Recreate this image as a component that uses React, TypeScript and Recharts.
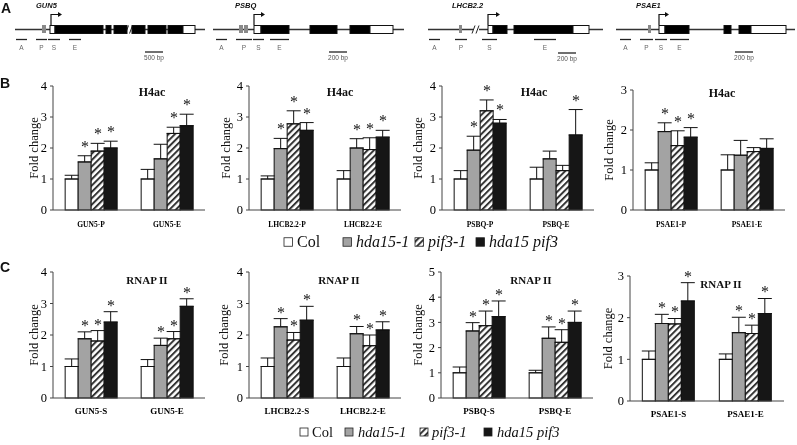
import React from 'react';
import { BarChart, Bar, XAxis, YAxis, ErrorBar } from 'recharts';

const genotypeNames = ['Col', 'hda15-1', 'pif3-1', 'hda15 pif3'];
const genotypeFills = ['#ffffff', '#a3a3a3', 'url(#hatch)', '#161616'];

// Panel B – H4ac
const h4Gun5Cats = ['GUN5-P', 'GUN5-E'];
const h4Gun5Means = [[1.0, 1.55, 1.9, 2.0], [1.0, 1.65, 2.47, 2.72]];
const h4Gun5Errs = [[0.12, 0.2, 0.25, 0.22], [0.31, 0.47, 0.2, 0.37]];
const h4Gun5Sig = [[0, 1, 1, 1], [0, 0, 1, 1]];

const h4LhcbCats = ['LHCB2.2-P', 'LHCB2.2-E'];
const h4LhcbMeans = [[1.0, 1.98, 2.78, 2.57], [1.0, 2.0, 1.95, 2.35]];
const h4LhcbErrs = [[0.1, 0.33, 0.42, 0.25], [0.27, 0.3, 0.38, 0.22]];
const h4LhcbSig = [[0, 1, 1, 1], [0, 1, 1, 1]];

const h4PsbqCats = ['PSBQ-P', 'PSBQ-E'];
const h4PsbqMeans = [[1.0, 1.93, 3.2, 2.8], [1.0, 1.65, 1.27, 2.42]];
const h4PsbqErrs = [[0.27, 0.45, 0.35, 0.12], [0.38, 0.25, 0.17, 0.82]];
const h4PsbqSig = [[0, 1, 1, 1], [0, 0, 0, 1]];

const h4PsaeCats = ['PSAE1-P', 'PSAE1-E'];
const h4PsaeMeans = [[1.0, 1.96, 1.61, 1.82], [1.0, 1.37, 1.46, 1.54]];
const h4PsaeErrs = [[0.18, 0.22, 0.37, 0.24], [0.38, 0.37, 0.1, 0.24]];
const h4PsaeSig = [[0, 1, 1, 1], [0, 0, 0, 0]];

// Panel C – RNAP II
const rnGun5Cats = ['GUN5-S', 'GUN5-E'];
const rnGun5Means = [[1.0, 1.88, 1.81, 2.41], [1.0, 1.67, 1.88, 2.91]];
const rnGun5Errs = [[0.24, 0.22, 0.33, 0.33], [0.22, 0.23, 0.23, 0.24]];
const rnGun5Sig = [[0, 1, 1, 1], [0, 1, 1, 1]];

const rnLhcbCats = ['LHCB2.2-S', 'LHCB2.2-E'];
const rnLhcbMeans = [[1.0, 2.26, 1.84, 2.47], [1.0, 2.04, 1.66, 2.16]];
const rnLhcbErrs = [[0.27, 0.26, 0.24, 0.44], [0.27, 0.23, 0.34, 0.26]];
const rnLhcbSig = [[0, 1, 1, 1], [0, 1, 1, 1]];

const rnPsbqCats = ['PSBQ-S', 'PSBQ-E'];
const rnPsbqMeans = [[1.0, 2.66, 2.87, 3.23], [1.0, 2.37, 2.21, 3.0]];
const rnPsbqErrs = [[0.23, 0.33, 0.58, 0.62], [0.1, 0.45, 0.5, 0.45]];
const rnPsbqSig = [[0, 1, 1, 1], [0, 1, 1, 1]];

const rnPsaeCats = ['PSAE1-S', 'PSAE1-E'];
const rnPsaeMeans = [[1.0, 1.86, 1.85, 2.4], [1.0, 1.64, 1.62, 2.1]];
const rnPsaeErrs = [[0.2, 0.22, 0.13, 0.44], [0.13, 0.37, 0.2, 0.36]];
const rnPsaeSig = [[0, 1, 1, 1], [0, 1, 1, 1]];

const SERIF = "'Liberation Serif', 'Times New Roman', serif";
const SANS = "'Liberation Sans', Arial, sans-serif";

const makeShape = (k: number, starGap: number) => (props: any) => {
  const { x, y, width, height, payload } = props;
  const v = payload['g' + k];
  const e = payload['r' + k];
  const ppu = v > 0 ? height / v : 0;
  const capY = y - e * ppu;
  const cy = capY - starGap;
  return (
    <g>
      <rect x={x} y={y} width={width} height={height} fill={genotypeFills[k]} stroke="#111" strokeWidth={1} />
      {payload['s' + k] ? (
        <text x={Math.round(x + width / 2)} y={Math.round(cy + 8)} textAnchor="middle" fontSize={16} fontFamily={SERIF} fill="#111" opacity={0.99}>*</text>
      ) : null}
    </g>
  );
};

type PanelProps = {
  cats: string[]; means: number[][]; errs: number[][]; sig: number[][];
  yMax: number; px0: number; px1: number; py0: number; py1: number;
  catFont: number; catMargin: number; starGap: number;
};

function Panel(p: PanelProps) {
  const YW = 30, MT = 24, XH = 26;
  const data = p.cats.map((c, i) => {
    const row: any = { cat: c };
    for (let k = 0; k < 4; k++) {
      row['g' + k] = p.means[i][k];
      row['e' + k] = [0, p.errs[i][k]];
      row['r' + k] = p.errs[i][k];
      row['s' + k] = p.sig[i][k];
    }
    return row;
  });
  const ticks = Array.from({ length: p.yMax + 1 }, (_, i) => i);
  return (
    <div style={{ position: 'absolute', left: p.px0 - YW, top: p.py0 - MT, willChange: 'transform' }}>
      <BarChart
        width={p.px1 - p.px0 + YW}
        height={p.py1 - p.py0 + MT + XH}
        data={data}
        margin={{ top: MT, right: 0, bottom: 0, left: 0 }}
        barCategoryGap="16%"
        barGap={0}
      >
        <XAxis dataKey="cat" height={XH} tickLine={false} axisLine={{ stroke: '#444' }} interval={0}
          tick={{ fontSize: p.catFont, fontWeight: 'bold', fontFamily: SERIF, fill: '#000' }} tickMargin={p.catMargin} />
        <YAxis width={YW} domain={[0, p.yMax]} ticks={ticks} tickSize={3}
          axisLine={{ stroke: '#444' }} tickLine={{ stroke: '#444' }}
          tick={{ fontSize: 12.5, fontFamily: SERIF, fill: '#000' }} tickMargin={3} />
        {[0, 1, 2, 3].map((k) => (
          <Bar key={k} dataKey={'g' + k} name={genotypeNames[k]} fill={genotypeFills[k]} isAnimationActive={false} shape={makeShape(k, p.starGap)}>
            <ErrorBar dataKey={'e' + k} width={7} stroke="#111" strokeWidth={1} direction="y" />
          </Bar>
        ))}
      </BarChart>
    </div>
  );
}

type Gene = {
  name: string; nameX: number; line: [number, number]; gray: [number, number][];
  exons: [number, number, number][]; arrow: [number, number]; breaks: number[];
  regions: [string, number, number][]; scale: [number, number]; scaleLabel: string; scaleY: number;
};

const genes: Gene[] = [
  {
    name: 'GUN5', nameX: 36, line: [15, 205], gray: [[42, 46]],
    exons: [[50, 55, 0], [55, 103, 1], [106, 111, 1], [114, 127, 1], [132, 145, 1], [148, 166, 1], [168, 183, 1], [183, 195, 0]],
    arrow: [51, 62], breaks: [129.5],
    regions: [['A', 16, 27], ['P', 36, 47], ['S', 48, 60], ['E', 69, 81]], scale: [145, 163], scaleLabel: '500 bp', scaleY: 52,
  },
  {
    name: 'PSBQ', nameX: 235, line: [213, 404], gray: [[239, 243], [244, 248]],
    exons: [[254, 261, 0], [261, 289, 1], [310, 337, 1], [350, 370, 1], [370, 393, 0]],
    arrow: [254, 265], breaks: [],
    regions: [['A', 216, 227], ['P', 236, 252], ['S', 253, 264], ['E', 270, 289]], scale: [329, 347], scaleLabel: '200 bp', scaleY: 52,
  },
  {
    name: 'LHCB2.2', nameX: 452, line: [428, 603], gray: [[459, 462]],
    exons: [[488, 493, 0], [493, 507, 1], [514, 573, 1], [573, 589, 0]],
    arrow: [488, 500], breaks: [476],
    regions: [['A', 429, 440], ['P', 455, 467], ['S', 482, 497], ['E', 534, 556]], scale: [558, 576], scaleLabel: '200 bp', scaleY: 53,
  },
  {
    name: 'PSAE1', nameX: 636, line: [616, 795], gray: [[648, 651]],
    exons: [[659, 665, 0], [665, 689, 1], [724, 731, 1], [739, 751, 1], [751, 786, 0]],
    arrow: [659, 669], breaks: [],
    regions: [['A', 620, 631], ['P', 640, 653], ['S', 655, 667], ['E', 670, 689]], scale: [735, 753], scaleLabel: '200 bp', scaleY: 52,
  },
];

function GeneDiagram({ g }: { g: Gene }) {
  const ly = 29.5;
  return (
    <g>
      <text x={g.nameX} y={8} fontSize={7.5} fontWeight="bold" fontStyle="italic" fontFamily={SANS} fill="#111">{g.name}</text>
      <line x1={g.line[0]} x2={g.line[1]} y1={ly} y2={ly} stroke="#333" strokeWidth={1.3} />
      {g.breaks.map((b, i) => (
        <g key={i}>
          <rect x={b - 3} y={ly - 5} width={6} height={10} fill="#fff" />
          <line x1={b - 4} y1={ly + 4} x2={b - 1} y2={ly - 4} stroke="#222" strokeWidth={1} />
          <line x1={b} y1={ly + 4} x2={b + 3} y2={ly - 4} stroke="#222" strokeWidth={1} />
        </g>
      ))}
      {g.gray.map(([a, b], i) => (
        <rect key={i} x={a} y={25} width={b - a} height={8} fill="#8a8a8a" />
      ))}
      {g.exons.map(([a, b, f], i) => (
        <rect key={i} x={a} y={25.5} width={b - a} height={8} fill={f ? '#000' : '#fff'} stroke="#111" strokeWidth={1} />
      ))}
      <polyline points={`${g.arrow[0]},25 ${g.arrow[0]},14.5 ${g.arrow[1] - 3},14.5`} fill="none" stroke="#111" strokeWidth={1.2} />
      <polygon points={`${g.arrow[1] - 4},12 ${g.arrow[1]},14.5 ${g.arrow[1] - 4},17`} fill="#111" />
      {g.regions.map(([n, a, b], i) => (
        <g key={i}>
          <line x1={a} x2={b} y1={39.5} y2={39.5} stroke="#222" strokeWidth={1.3} />
          <text x={(a + b) / 2} y={50} fontSize={6.5} fontFamily={SANS} textAnchor="middle" fill="#666">{n}</text>
        </g>
      ))}
      <line x1={g.scale[0]} x2={g.scale[1]} y1={g.scaleY} y2={g.scaleY} stroke="#222" strokeWidth={1.3} />
      <text x={(g.scale[0] + g.scale[1]) / 2} y={g.scaleY + 8} fontSize={6.5} fontFamily={SANS} textAnchor="middle" fill="#555">{g.scaleLabel}</text>
    </g>
  );
}

type LegendItem = { sq: number; tx: number };

function Legend({ items, y, size, font }: { items: LegendItem[]; y: number; size: number; font: number }) {
  return (
    <g>
      {items.map((it, k) => (
        <g key={k}>
          <rect x={it.sq} y={y - size / 2} width={size} height={size} fill={genotypeFills[k]} stroke="#222" strokeWidth={0.8} />
          <text x={it.tx} y={y + font * 0.33} fontSize={font} fontFamily={SERIF} fontStyle={k === 0 ? 'normal' : 'italic'} fill="#111">{genotypeNames[k]}</text>
        </g>
      ))}
    </g>
  );
}

const panelsB = [
  { cats: h4Gun5Cats, means: h4Gun5Means, errs: h4Gun5Errs, sig: h4Gun5Sig, yMax: 4, px0: 53, px1: 205, py0: 86, py1: 210, title: 'H4ac', tx: 152, ty: 96, fx: 33 },
  { cats: h4LhcbCats, means: h4LhcbMeans, errs: h4LhcbErrs, sig: h4LhcbSig, yMax: 4, px0: 249, px1: 401, py0: 86, py1: 210, title: 'H4ac', tx: 340, ty: 96, fx: 225 },
  { cats: h4PsbqCats, means: h4PsbqMeans, errs: h4PsbqErrs, sig: h4PsbqSig, yMax: 4, px0: 442, px1: 594, py0: 86, py1: 210, title: 'H4ac', tx: 534, ty: 96, fx: 417 },
  { cats: h4PsaeCats, means: h4PsaeMeans, errs: h4PsaeErrs, sig: h4PsaeSig, yMax: 3, px0: 633, px1: 785, py0: 90, py1: 210, title: 'H4ac', tx: 722, ty: 97, fx: 608 },
];

const panelsC = [
  { cats: rnGun5Cats, means: rnGun5Means, errs: rnGun5Errs, sig: rnGun5Sig, yMax: 4, px0: 53, px1: 205, py0: 272, py1: 398, title: 'RNAP II', tx: 147, ty: 284, fx: 33 },
  { cats: rnLhcbCats, means: rnLhcbMeans, errs: rnLhcbErrs, sig: rnLhcbSig, yMax: 4, px0: 249, px1: 401, py0: 272, py1: 398, title: 'RNAP II', tx: 339, ty: 284, fx: 223 },
  { cats: rnPsbqCats, means: rnPsbqMeans, errs: rnPsbqErrs, sig: rnPsbqSig, yMax: 5, px0: 441, px1: 593, py0: 272, py1: 398, title: 'RNAP II', tx: 531, ty: 284, fx: 417 },
  { cats: rnPsaeCats, means: rnPsaeMeans, errs: rnPsaeErrs, sig: rnPsaeSig, yMax: 3, px0: 630, px1: 784, py0: 276, py1: 401, title: 'RNAP II', tx: 721, ty: 288, fx: 607 },
];

export default function App() {
  return (
    <div style={{ position: 'absolute', left: 0, top: 0, width: 797, height: 445, background: '#fff', overflow: 'hidden' }}>
      <svg width={0} height={0} style={{ position: 'absolute' }}>
        <defs>
          <pattern id="hatch" width={4.5} height={4.5} patternUnits="userSpaceOnUse" patternTransform="rotate(45)">
            <rect width={4.5} height={4.5} fill="#fff" />
            <line x1={1} y1={0} x2={1} y2={4.5} stroke="#333" strokeWidth={2} />
          </pattern>
        </defs>
      </svg>
      {panelsB.map((p, i) => (
        <Panel key={'b' + i} {...p} catFont={7.5} catMargin={6} starGap={12} />
      ))}
      {panelsC.map((p, i) => (
        <Panel key={'c' + i} {...p} catFont={9} catMargin={4} starGap={9} />
      ))}
      <svg width={797} height={445} style={{ position: 'absolute', left: 0, top: 0, pointerEvents: 'none', willChange: 'transform' }}>
        <text x={1} y={13} fontSize={14} fontWeight="bold" fontFamily={SANS} fill="#111">A</text>
        <text x={0} y={88} fontSize={14} fontWeight="bold" fontFamily={SANS} fill="#111">B</text>
        <text x={0} y={272} fontSize={14} fontWeight="bold" fontFamily={SANS} fill="#111">C</text>
        {genes.map((g) => <GeneDiagram key={g.name} g={g} />)}
        {[...panelsB.map((p) => ({ ...p, tf: 12 })), ...panelsC.map((p) => ({ ...p, tf: 11 }))].map((p, i) => (
          <g key={'t' + i}>
            <text x={p.tx} y={p.ty} fontSize={p.tf} fontWeight="bold" fontFamily={SERIF} textAnchor="middle" fill="#111">{p.title}</text>
            <text transform={`translate(${p.fx + 4.5},${(p.py0 + p.py1) / 2}) rotate(-90)`} fontSize={12.5} fontFamily={SERIF} textAnchor="middle" fill="#111">Fold change</text>
          </g>
        ))}
        <Legend items={[{ sq: 284, tx: 297 }, { sq: 343, tx: 356 }, { sq: 415, tx: 428 }, { sq: 476, tx: 489 }]} y={242} size={8.5} font={16} />
        <Legend items={[{ sq: 300, tx: 312 }, { sq: 345, tx: 358 }, { sq: 420, tx: 432 }, { sq: 484, tx: 497 }]} y={432} size={8} font={14.5} />
      </svg>
    </div>
  );
}
